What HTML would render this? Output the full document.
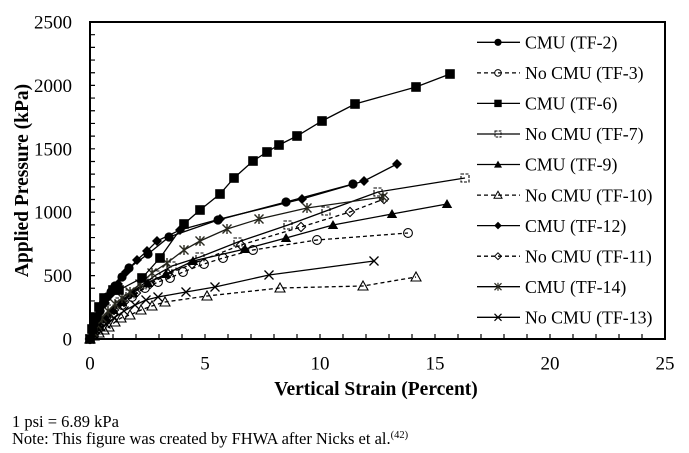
<!DOCTYPE html>
<html><head><meta charset="utf-8"><style>
html,body{margin:0;padding:0;background:#fff;}
svg{display:block;}
text{font-family:"Liberation Serif","Times New Roman",serif;fill:#000;}
</style></head><body>
<svg width="689" height="453" viewBox="0 0 689 453" xmlns="http://www.w3.org/2000/svg">
<defs>
<marker id="fc" markerUnits="userSpaceOnUse" refX="0" refY="0" markerWidth="1" markerHeight="1" style="overflow:visible"><circle cx="0" cy="0" r="4.6" fill="#000"/></marker>
<marker id="oc" markerUnits="userSpaceOnUse" refX="0" refY="0" markerWidth="1" markerHeight="1" style="overflow:visible"><circle cx="0" cy="0" r="4.4" fill="none" stroke="#000" stroke-width="1.1"/></marker>
<marker id="fs" markerUnits="userSpaceOnUse" refX="0" refY="0" markerWidth="1" markerHeight="1" style="overflow:visible"><rect x="-4.8" y="-4.8" width="9.6" height="9.6" fill="#000"/></marker>
<marker id="os" markerUnits="userSpaceOnUse" refX="0" refY="0" markerWidth="1" markerHeight="1" style="overflow:visible"><rect x="-4" y="-4" width="8" height="8" fill="none" stroke="#000" stroke-width="1.1" stroke-dasharray="3,1.5"/></marker>
<marker id="ft" markerUnits="userSpaceOnUse" refX="0" refY="0" markerWidth="1" markerHeight="1" style="overflow:visible"><path d="M0,-5 L5.2,4 L-5.2,4 Z" fill="#000"/></marker>
<marker id="ot" markerUnits="userSpaceOnUse" refX="0" refY="0" markerWidth="1" markerHeight="1" style="overflow:visible"><path d="M0,-5 L5,4 L-5,4 Z" fill="none" stroke="#000" stroke-width="1.1"/></marker>
<marker id="fd" markerUnits="userSpaceOnUse" refX="0" refY="0" markerWidth="1" markerHeight="1" style="overflow:visible"><path d="M0,-5 L5,0 L0,5 L-5,0 Z" fill="#000"/></marker>
<marker id="od" markerUnits="userSpaceOnUse" refX="0" refY="0" markerWidth="1" markerHeight="1" style="overflow:visible"><path d="M0,-4.6 L4.6,0 L0,4.6 L-4.6,0 Z" fill="none" stroke="#000" stroke-width="1.1"/></marker>
<marker id="as" markerUnits="userSpaceOnUse" refX="0" refY="0" markerWidth="1" markerHeight="1" style="overflow:visible"><path d="M-4.5,-4.5 L4.5,4.5 M-4.5,4.5 L4.5,-4.5 M0,-5 L0,5" fill="none" stroke="#2a2a20" stroke-width="1.4"/></marker>
<marker id="xx" markerUnits="userSpaceOnUse" refX="0" refY="0" markerWidth="1" markerHeight="1" style="overflow:visible"><path d="M-4.5,-4.5 L4.5,4.5 M-4.5,4.5 L4.5,-4.5" fill="none" stroke="#000" stroke-width="1.3"/></marker>
</defs>

<!-- frame -->
<rect x="90" y="22" width="575" height="317" fill="none" stroke="#000" stroke-width="2"/>

<!-- y minor ticks -->
<path stroke="#000" stroke-width="1.2" fill="none" d="M90 326.32h5M90 313.64h5M90 300.96h5M90 288.28h5M90 275.6h5M90 262.92h5M90 250.24h5M90 237.56h5M90 224.88h5M90 212.2h5M90 199.52h5M90 186.84h5M90 174.16h5M90 161.48h5M90 148.8h5M90 136.12h5M90 123.44h5M90 110.76h5M90 98.08h5M90 85.4h5M90 72.72h5M90 60.04h5M90 47.36h5M90 34.68h5"/>
<!-- x minor ticks -->
<path stroke="#000" stroke-width="1.2" fill="none" d="M113 339v-5M136 339v-5M159 339v-5M182 339v-5M205 339v-5M228 339v-5M251 339v-5M274 339v-5M297 339v-5M320 339v-5M343 339v-5M366 339v-5M389 339v-5M412 339v-5M435 339v-5M458 339v-5M481 339v-5M504 339v-5M527 339v-5M550 339v-5M573 339v-5M596 339v-5M619 339v-5M642 339v-5"/>

<!-- y labels -->
<g font-size="19" text-anchor="end">
<text x="72" y="345.5">0</text>
<text x="72" y="282">500</text>
<text x="72" y="218.7">1000</text>
<text x="72" y="155.3">1500</text>
<text x="72" y="92">2000</text>
<text x="72" y="28.5">2500</text>
</g>
<!-- x labels -->
<g font-size="19" text-anchor="middle">
<text x="90" y="369.5">0</text>
<text x="205" y="369.5">5</text>
<text x="320" y="369.5">10</text>
<text x="435" y="369.5">15</text>
<text x="550" y="369.5">20</text>
<text x="665" y="369.5">25</text>
</g>

<text x="376" y="395" font-size="19.5" font-weight="bold" text-anchor="middle">Vertical Strain (Percent)</text>
<text transform="translate(28,180.5) rotate(-90)" font-size="19.5" font-weight="bold" text-anchor="middle">Applied Pressure (kPa)</text>

<!-- series -->
<g fill="none" stroke="#000" stroke-width="1.3">
<polyline marker-start="url(#ot)" marker-mid="url(#ot)" marker-end="url(#ot)" stroke-dasharray="4,3" points="90,339 94,336 99,333 104,330 109,327 115,322 121,318 130,315 141,310 152,306 165,302 207,296 280,288 363,286 416,277"/>
<polyline marker-start="url(#xx)" marker-mid="url(#xx)" marker-end="url(#xx)" points="90,339 94,335 99,330 106,324 114,318 124,311 135,305 146,300 158,297 186,292 215,287 269,275 374,261"/>
<polyline marker-start="url(#oc)" marker-mid="url(#oc)" marker-end="url(#oc)" stroke-dasharray="4,3" points="90,339 94,334 99,328 105,321 113,313 122,305 132,297 145,288 158,282 170,278 183,272 204,264 223,258 253,250 317,240 408,233"/>
<polyline marker-start="url(#ft)" marker-mid="url(#ft)" marker-end="url(#ft)" points="90,339 94,333 99,326 105,318 113,310 122,302 133,293 148,283 166,274 193,261 245,249 286,238 333,225 392,214 447,204"/>
<polyline marker-start="url(#od)" marker-mid="url(#od)" marker-end="url(#od)" stroke-dasharray="4,3" points="90,339 94,333 99,326 106,318 114,310 124,302 136,293 150,284 168,274 192,264 241,245 301,227 350,212 384,199"/>
<polyline marker-start="url(#os)" marker-mid="url(#os)" marker-end="url(#os)" points="90,339 94,332 99,325 105,317 112,309 120,302 130,294 142,285 156,275 172,266 200,257 238,242 288,225 326,211 378,192 465,178"/>
<polyline marker-start="url(#as)" marker-mid="url(#as)" marker-end="url(#as)" stroke="#1a1a14" points="90,339 93,332 97,325 102,318 108,311 115,304 122,298 130,292 140,284 152,273 167,263 184,250 200,241 227,229 259,219 307,208 383,197"/>
<polyline marker-start="url(#fd)" marker-mid="url(#fd)" marker-end="url(#fd)" points="90,339 93,329 96,320 100,311 105,303 111,294 118,284 126,272 137,260 147,251 157,241 180,230 220,219 302,199 364,181 397,164"/>
<polyline marker-start="url(#fc)" marker-mid="url(#fc)" marker-end="url(#fc)" points="90,339 92,331 94,324 97,317 100,311 103,304 107,297 111,292 115,286 122,277 129,268 148,254 169,237 218,220 286,202 353,184"/>
<polyline marker-start="url(#fs)" marker-mid="url(#fs)" marker-end="url(#fs)" points="90,339 92,329 95,317 99,307 104,298 113,290 119,290 142,278 160,258 184,224 200,210 220,194 234,178 253,161 267,152 279,145 297,136 322,121 355,104 416,87 450,74"/>
</g>

<!-- legend -->
<g fill="none" stroke="#000" stroke-width="1.3">
<path d="M477 42.3H520"/>
<path d="M477 72.9H520" stroke-dasharray="4,3"/>
<path d="M477 103.4H520"/>
<path d="M477 134H520"/>
<path d="M477 164.5H520"/>
<path d="M477 195.1H520" stroke-dasharray="4,3"/>
<path d="M477 225.6H520"/>
<path d="M477 256.2H520" stroke-dasharray="4,3"/>
<path d="M477 286.7H520"/>
<path d="M477 317.3H520"/>
</g>
<g>
<circle cx="498" cy="42.3" r="3.6" fill="#000"/>
<circle cx="498" cy="72.9" r="3.3" fill="none" stroke="#000" stroke-width="1"/>
<rect x="494.3" y="99.7" width="7.4" height="7.4" fill="#000"/>
<rect x="495" y="131" width="6" height="6" fill="none" stroke="#000" stroke-width="1" stroke-dasharray="2.5,1.2"/>
<path d="M498 160.6 L502 167.6 L494 167.6 Z" fill="#000"/>
<path d="M498 191.3 L502 198.2 L494 198.2 Z" fill="none" stroke="#000" stroke-width="1"/>
<path d="M498 221.8 L501.8 225.6 L498 229.4 L494.2 225.6 Z" fill="#000"/>
<path d="M498 252.8 L501.4 256.2 L498 259.6 L494.6 256.2 Z" fill="none" stroke="#000" stroke-width="1"/>
<path d="M494.5 283.2 L501.5 290.2 M494.5 290.2 L501.5 283.2 M498 282.7 L498 290.7" stroke="#2a2a20" stroke-width="1.2" fill="none"/>
<path d="M494.5 313.8 L501.5 320.8 M494.5 320.8 L501.5 313.8" stroke="#000" stroke-width="1.2" fill="none"/>
</g>
<g font-size="17.8">
<text x="525" y="48.5">CMU (TF-2)</text>
<text x="525" y="79.1">No CMU (TF-3)</text>
<text x="525" y="109.6">CMU (TF-6)</text>
<text x="525" y="140.2">No CMU (TF-7)</text>
<text x="525" y="170.7">CMU (TF-9)</text>
<text x="525" y="201.3">No CMU (TF-10)</text>
<text x="525" y="231.8">CMU (TF-12)</text>
<text x="525" y="262.4">No CMU (TF-11)</text>
<text x="525" y="292.9">CMU (TF-14)</text>
<text x="525" y="323.5">No CMU (TF-13)</text>
</g>

<!-- footer -->
<g font-size="16.5">
<text x="12" y="427">1 psi = 6.89 kPa</text>
<text x="12" y="444">Note: This figure was created by FHWA after Nicks et al.<tspan font-size="10.5" dy="-6">(42)</tspan></text>
</g>
</svg>
</body></html>
